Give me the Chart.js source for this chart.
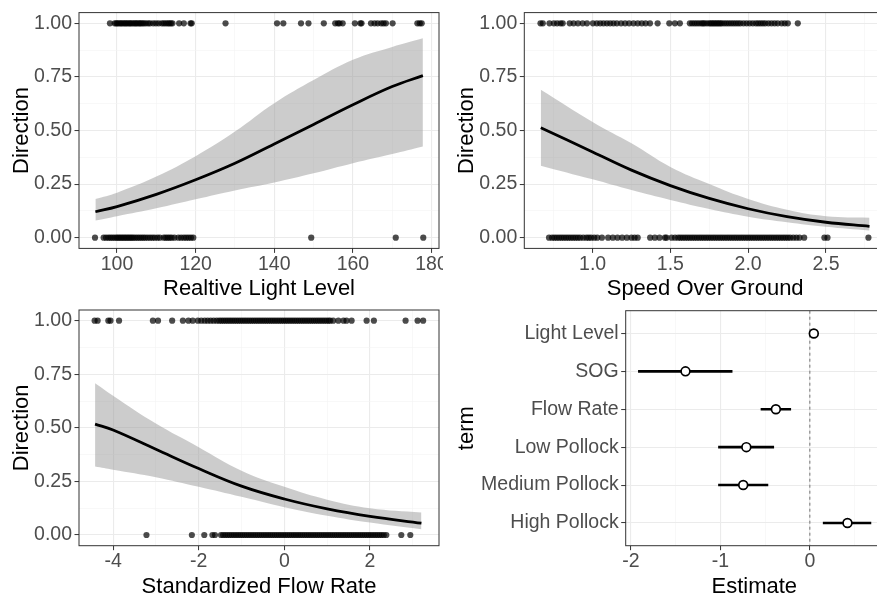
<!DOCTYPE html>
<html>
<head>
<meta charset="utf-8">
<script src="https://cdn.jsdelivr.net/npm/chart.js@4.4.1/dist/chart.umd.min.js"></script>
<style>
  html, body { margin: 0; padding: 0; background: #fff; overflow: hidden; }
  #wrap { position: relative; width: 877px; height: 597px; overflow: hidden; }
  canvas { position: absolute; }
</style>
</head>
<body>
<div id="wrap">
  <canvas id="light" width="443" height="302" style="left:0px;top:0px;width:443px;height:302px"></canvas>
  <canvas id="sog" width="445" height="302" style="left:445px;top:0px;width:445px;height:302px"></canvas>
  <canvas id="flow" width="443" height="300" style="left:0px;top:300px;width:443px;height:300px"></canvas>
  <canvas id="coef" width="444" height="300" style="left:445px;top:300px;width:444px;height:300px"></canvas>
</div>
<script>
// ---- datos ----

// Direction vs luz relativa
const lightUp = [98.2, 99.4, 99.8, 100.1, 100.5, 100.9, 101.2, 101.6, 102.0, 102.3, 102.7, 103.1, 103.4, 103.8,
  104.2, 104.6, 104.9, 105.3, 105.7, 106.0, 106.4, 106.8, 107.3, 107.9, 108.4, 109.2, 109.9, 110.6, 111.4,
  111.9, 112.4, 112.9, 113.3, 113.7, 114.1, 115.8, 117.0, 118.7, 119.0, 127.6, 140.7, 142.3, 146.8, 148.7,
  152.6, 155.5, 156.2, 156.6, 157.4, 160.5, 161.9, 162.2, 164.6, 165.5, 166.3, 167.2, 167.8, 168.4, 170.1,
  176.4, 177.0, 177.5];
const lightDown = [94.4, 96.6, 97.2, 97.8, 98.3, 98.8, 99.3, 99.8, 100.2, 100.6, 101.0, 101.4, 101.8, 102.2,
  102.6, 103.0, 103.4, 103.8, 104.2, 104.7, 105.2, 105.7, 106.2, 106.7, 107.2, 107.8, 108.4, 109.0, 109.6,
  110.3, 110.9, 111.9, 112.4, 112.9, 113.4, 113.9, 114.6, 115.6, 116.3, 117.0, 117.6, 118.2, 118.8, 119.4,
  149.4, 170.9, 177.9];
const lightX = [94.5, 100, 110, 120, 130, 140, 150, 160, 170, 177.8];
const lightFit = [0.121, 0.145, 0.202, 0.27, 0.347, 0.437, 0.528, 0.62, 0.705, 0.756];
const lightLo = [0.08, 0.10, 0.137, 0.179, 0.22, 0.257, 0.30, 0.347, 0.39, 0.425];
const lightHi = [0.18, 0.21, 0.285, 0.38, 0.495, 0.627, 0.735, 0.83, 0.89, 0.93];

// Direction vs SOG
const sogUp = [0.665, 0.68, 0.723, 0.751, 0.772, 0.794, 0.808, 0.853, 0.878, 0.906, 0.936, 0.964,
  1.002, 1.027, 1.049, 1.07, 1.092, 1.113, 1.134, 1.156, 1.183, 1.209, 1.235, 1.263, 1.29, 1.316, 1.341,
  1.369, 1.418, 1.493, 1.529, 1.561, 1.625, 1.64, 1.655, 1.67, 1.685, 1.70, 1.71, 1.72, 1.735, 1.75, 1.76,
  1.77, 1.78, 1.79, 1.80, 1.81, 1.82, 1.83, 1.845, 1.86, 1.875, 1.89, 1.905, 1.92, 1.935, 1.95, 1.97, 1.99,
  2.01, 2.03, 2.05, 2.065, 2.08, 2.095, 2.11, 2.13, 2.15, 2.17, 2.19, 2.215, 2.235, 2.255, 2.319];
const sogDown = [0.72, 0.74, 0.755, 0.77, 0.785, 0.80, 0.815, 0.83, 0.845, 0.86, 0.875, 0.89, 0.905, 0.92,
  0.94, 0.96, 0.975, 0.99, 1.01, 1.03, 1.06, 1.10, 1.13, 1.16, 1.19, 1.22, 1.25, 1.27, 1.29, 1.37, 1.40,
  1.43, 1.465, 1.475, 1.508, 1.53, 1.55, 1.565, 1.58, 1.595, 1.61, 1.625, 1.64, 1.655, 1.67, 1.685, 1.70,
  1.715, 1.73, 1.745, 1.76, 1.775, 1.79, 1.805, 1.82, 1.835, 1.85, 1.865, 1.88, 1.895, 1.91, 1.925, 1.94,
  1.955, 1.97, 1.985, 2.0, 2.015, 2.03, 2.045, 2.06, 2.075, 2.09, 2.105, 2.12, 2.135, 2.15, 2.165, 2.18,
  2.195, 2.21, 2.225, 2.24, 2.255, 2.27, 2.29, 2.31, 2.33, 2.36, 2.49, 2.51, 2.773];
const sogX = [0.667, 1.0, 1.25, 1.5, 1.75, 2.0, 2.25, 2.5, 2.78];
const sogFit = [0.513, 0.40, 0.315, 0.243, 0.183, 0.135, 0.098, 0.072, 0.053];
const sogLo = [0.336, 0.272, 0.222, 0.176, 0.134, 0.098, 0.072, 0.051, 0.033];
const sogHi = [0.69, 0.54, 0.44, 0.33, 0.25, 0.18, 0.13, 0.10, 0.093];

// Direction vs caudal estandarizado
const flowUp = [-4.43, -4.36, -4.11, -4.06, -3.86, -3.07, -2.95, -2.62, -2.37, -2.24, -2.14, -2.02, -1.94,
  -1.86, -1.79, -1.72, -1.65, -1.58, -1.52, -1.47, -1.42, -1.37, -1.32, -1.27, -1.22, -1.17, -1.12, -1.07,
  -1.02, -0.97, -0.92, -0.87, -0.82, -0.77, -0.72, -0.67, -0.62, -0.57, -0.52, -0.47, -0.42, -0.37, -0.32,
  -0.27, -0.22, -0.17, -0.12, -0.07, -0.02, 0.03, 0.08, 0.13, 0.18, 0.23, 0.28, 0.33, 0.38, 0.43, 0.48,
  0.53, 0.58, 0.63, 0.68, 0.73, 0.78, 0.83, 0.88, 0.93, 0.98, 1.03, 1.07, 1.14, 1.26, 1.38, 1.45, 1.57,
  1.92, 2.09, 2.83, 3.11, 3.24];
const flowDown = [-3.22, -2.16, -1.87, -1.68, -1.62, -1.48, -1.43, -1.38, -1.33, -1.28, -1.23, -1.18, -1.13,
  -1.08, -1.03, -0.98, -0.93, -0.88, -0.83, -0.78, -0.73, -0.68, -0.63, -0.58, -0.53, -0.48, -0.43, -0.38,
  -0.33, -0.28, -0.23, -0.18, -0.13, -0.08, -0.03, 0.02, 0.07, 0.12, 0.17, 0.22, 0.27, 0.32, 0.37, 0.42,
  0.47, 0.52, 0.57, 0.62, 0.67, 0.72, 0.77, 0.82, 0.87, 0.92, 0.97, 1.02, 1.07, 1.12, 1.17, 1.22, 1.27,
  1.32, 1.37, 1.42, 1.47, 1.52, 1.57, 1.62, 1.67, 1.72, 1.77, 1.82, 1.87, 1.92, 1.97, 2.02, 2.07, 2.12,
  2.17, 2.22, 2.27, 2.32, 2.38, 2.73, 2.94];
const flowX = [-4.42, -4, -3, -2, -1, 0, 1, 2, 3.2];
const flowFit = [0.517, 0.49, 0.40, 0.31, 0.228, 0.168, 0.122, 0.087, 0.055];
const flowLo = [0.32, 0.305, 0.27, 0.225, 0.178, 0.13, 0.09, 0.058, 0.027];
const flowHi = [0.708, 0.65, 0.52, 0.41, 0.30, 0.225, 0.165, 0.125, 0.105];

// coeficientes del modelo
const terms = ['Light Level', 'SOG', 'Flow Rate', 'Low Pollock', 'Medium Pollock', 'High Pollock'];
const estimates = [0.044, -1.39, -0.38, -0.71, -0.745, 0.42];
const ciLow = [0.03, -1.92, -0.55, -1.025, -1.025, 0.145];
const ciHigh = [0.058, -0.865, -0.21, -0.40, -0.465, 0.686];

// ticks
const probTicks = [0, 0.25, 0.5, 0.75, 1];
const probLabels = ['0.00', '0.25', '0.50', '0.75', '1.00'];
const probMinor = [0.125, 0.375, 0.625, 0.875];
const lightTicks = [100, 120, 140, 160, 180];
const lightMinor = [110, 130, 150, 170];
const sogTicks = [1.0, 1.5, 2.0, 2.5];
const sogLabels = ['1.0', '1.5', '2.0', '2.5'];
const sogMinor = [0.75, 1.25, 1.75, 2.25, 2.75];
const flowTicks = [-4, -2, 0, 2];
const flowMinor = [-3, -1, 1, 3];
const estTicks = [-2, -1, 0];
const estMinor = [-1.5, -0.5, 0.5];

// ---- estilo ----
const FONT = "'Liberation Sans', Arial, Helvetica, sans-serif";

// marco del panel (theme_bw)
const marco = {
  id: 'marco',
  afterDatasetsDraw(chart) {
    const { ctx, chartArea: a } = chart;
    ctx.save();
    ctx.strokeStyle = '#333333';
    ctx.lineWidth = 1;
    ctx.strokeRect(a.left, a.top, a.right - a.left, a.bottom - a.top);
    ctx.restore();
  }
};

function eje(o) {
  const mayores = new Set(o.major);
  const todos = o.major.concat(o.minor || []).sort((a, b) => a - b);
  const labels = o.labels || o.major.map(String);
  return {
    type: 'linear',
    position: o.position,
    min: o.min,
    max: o.max,
    reverse: !!o.reverse,
    afterBuildTicks: s => { s.ticks = todos.map(v => ({ value: v })); },
    afterFit: s => {
      if (o.position === 'left') s.width = o.size; else s.height = o.size;
      s.paddingLeft = 0; s.paddingRight = 0; s.paddingTop = 0; s.paddingBottom = 0;
    },
    grid: {
      color: c => mayores.has(c.tick.value) ? '#ebebeb' : '#f3f3f3',
      lineWidth: c => mayores.has(c.tick.value) ? 1.1 : 0.6,
      tickColor: c => mayores.has(c.tick.value) ? '#333333' : 'rgba(0,0,0,0)',
      tickLength: 4.5,
      tickWidth: 1
    },
    border: { display: false },
    ticks: {
      autoSkip: false,
      maxRotation: 0,
      padding: o.position === 'left' ? 2.5 : 0,
      color: '#4d4d4d',
      font: { family: FONT, size: 19.5 },
      callback: v => {
        const i = o.major.indexOf(v);
        return i < 0 ? '' : labels[i];
      }
    },
    title: {
      display: true,
      text: o.title,
      color: '#000',
      font: { family: FONT, size: 22 },
      padding: { top: o.titlePad || 0, bottom: 0 }
    }
  };
}

const puntos = (xs, y) => xs.map(x => ({ x: x, y: y }));
const curva = (xs, ys) => xs.map((x, i) => ({ x: x, y: ys[i] }));

function panelLogistico(id, cfg) {
  new Chart(document.getElementById(id), {
    type: 'scatter',
    data: {
      datasets: [
        { data: curva(cfg.x, cfg.fit), showLine: true, borderColor: '#000', borderWidth: 2.8,
          pointRadius: 0, tension: 0.4 },
        { data: curva(cfg.x, cfg.lo), showLine: true, borderColor: 'rgba(0,0,0,0)', pointRadius: 0,
          tension: 0.4, fill: false },
        { data: curva(cfg.x, cfg.hi), showLine: true, borderColor: 'rgba(0,0,0,0)', pointRadius: 0,
          tension: 0.4, fill: '-1', backgroundColor: 'rgba(153,153,153,0.5)' },
        { data: puntos(cfg.up, 1), pointRadius: 3.1, pointBackgroundColor: 'rgba(0,0,0,0.7)', pointBorderWidth: 0 },
        { data: puntos(cfg.down, 0), pointRadius: 3.1, pointBackgroundColor: 'rgba(0,0,0,0.7)', pointBorderWidth: 0 }
      ]
    },
    options: {
      responsive: false,
      animation: false,
      devicePixelRatio: 1,
      events: [],
      layout: { padding: cfg.pad },
      plugins: { legend: { display: false }, tooltip: { enabled: false } },
      scales: {
        x: eje({ position: 'bottom', min: cfg.xmin, max: cfg.xmax, major: cfg.xticks, minor: cfg.xminor,
          labels: cfg.xlabels, title: cfg.xtitle, size: cfg.xsize }),
        y: eje({ position: 'left', min: -0.05, max: 1.05, major: probTicks, minor: probMinor,
          labels: probLabels, title: 'Direction', size: cfg.ysize, titlePad: cfg.ytitlePad })
      }
    },
    plugins: [marco]
  });
}

panelLogistico('light', {
  up: lightUp, down: lightDown, x: lightX, fit: lightFit, lo: lightLo, hi: lightHi,
  xmin: 90.33, xmax: 181.9, xticks: lightTicks, xminor: lightMinor, xtitle: 'Realtive Light Level',
  xsize: 53.6, ysize: 79, ytitlePad: 8.8, pad: { top: 12.6, right: 1.3, bottom: 0, left: 0 }
});

panelLogistico('sog', {
  up: sogUp, down: sogDown, x: sogX, fit: sogFit, lo: sogLo, hi: sogHi,
  xmin: 0.561, xmax: 2.886, xticks: sogTicks, xminor: sogMinor, xlabels: sogLabels, xtitle: 'Speed Over Ground',
  xsize: 53.6, ysize: 79.3, ytitlePad: 8.5, pad: { top: 12.6, right: 1.4, bottom: 0, left: 0 }
});

panelLogistico('flow', {
  up: flowUp, down: flowDown, x: flowX, fit: flowFit, lo: flowLo, hi: flowHi,
  xmin: -4.795, xmax: 3.61, xticks: flowTicks, xminor: flowMinor, xtitle: 'Standardized Flow Rate',
  xsize: 54.3, ysize: 79, ytitlePad: 8.8, pad: { top: 10, right: 1.3, bottom: 0, left: 0 }
});

// panel de coeficientes (pointrange)
const yPos = terms.map((t, i) => i + 1);
const barras = terms.map((t, i) => ({
  data: [{ x: ciLow[i], y: yPos[i] }, { x: ciHigh[i], y: yPos[i] }],
  showLine: true, borderColor: '#000', borderWidth: 2.6, pointRadius: 0
}));

new Chart(document.getElementById('coef'), {
  type: 'scatter',
  data: {
    datasets: [
      { data: estimates.map((e, i) => ({ x: e, y: yPos[i] })), pointRadius: 4.4,
        pointBackgroundColor: '#fff', pointBorderColor: '#000', pointBorderWidth: 1.7 },
      ...barras,
      { data: [{ x: 0, y: 0.4 }, { x: 0, y: 6.6 }], showLine: true, borderColor: '#555', borderWidth: 0.8,
        borderDash: [3, 3], pointRadius: 0 }
    ]
  },
  options: {
    responsive: false,
    animation: false,
    devicePixelRatio: 1,
    events: [],
    layout: { padding: { top: 10.7, right: 1.3, bottom: 0, left: 0 } },
    plugins: { legend: { display: false }, tooltip: { enabled: false } },
    scales: {
      x: eje({ position: 'bottom', min: -2.058, max: 0.816, major: estTicks, minor: estMinor,
        title: 'Estimate', size: 54.3 }),
      y: eje({ position: 'left', min: 0.4, max: 6.6, reverse: true, major: yPos, minor: [],
        labels: terms, title: 'term', size: 180.7, titlePad: 8.5 })
    }
  },
  plugins: [marco]
});
</script>
</body>
</html>
